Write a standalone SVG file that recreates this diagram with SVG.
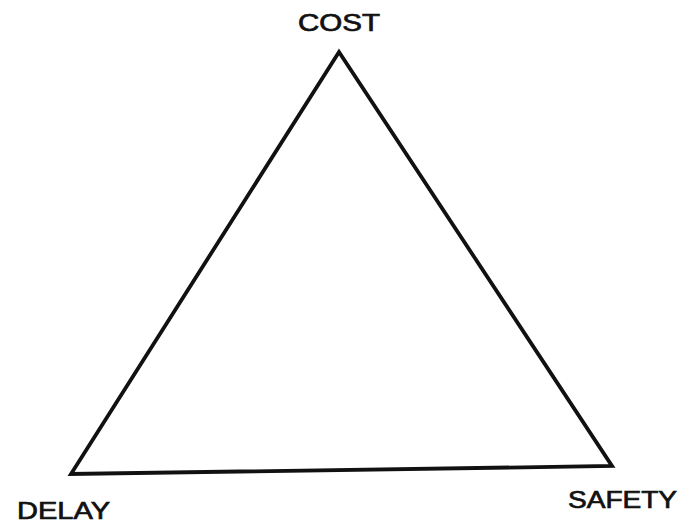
<svg xmlns="http://www.w3.org/2000/svg" width="685" height="523" viewBox="0 0 685 523">
<style>
.lbl{font-family:"Liberation Sans",Arial,sans-serif;font-size:24px;fill:#111;stroke:#111;stroke-width:0.7}
.edge{fill:none;stroke:#111;stroke-width:3.8;stroke-linejoin:miter}
</style>
<rect width="685" height="523" fill="#fff"/>
<g id="connectors">
<polygon class="edge" points="339,52 71,474 612,466"/>
</g>
<g id="cost"><text class="lbl" x="298" y="31" textLength="82" lengthAdjust="spacingAndGlyphs">COST</text></g>
<g id="delay"><text class="lbl" x="17" y="519" textLength="93" lengthAdjust="spacingAndGlyphs">DELAY</text></g>
<g id="safety"><text class="lbl" x="568" y="508" textLength="109" lengthAdjust="spacingAndGlyphs">SAFETY</text></g>
</svg>
